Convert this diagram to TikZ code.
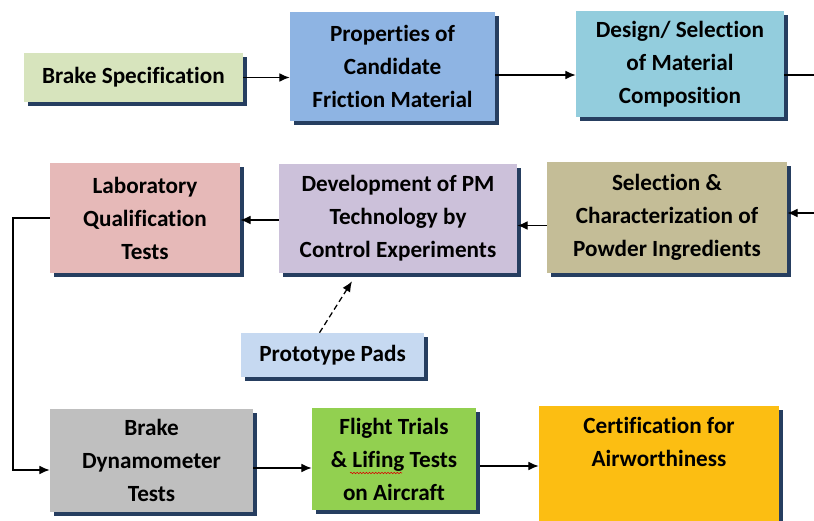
\documentclass[tikz,border=0pt]{standalone}
\usepackage{fontspec}
\setmainfont{Carlito}[Ligatures=NoCommon]
\usepackage{tikz}
\usetikzlibrary{arrows.meta,positioning,calc,shadows,decorations.pathmorphing}
\definecolor{specgreen}{RGB}{215,228,189}
\definecolor{propblue}{RGB}{142,180,227}
\definecolor{designcyan}{RGB}{147,205,221}
\definecolor{selkhaki}{RGB}{196,189,151}
\definecolor{devlilac}{RGB}{204,193,218}
\definecolor{labpink}{RGB}{230,185,184}
\definecolor{protoblue}{RGB}{198,217,241}
\definecolor{dynogrey}{RGB}{191,191,191}
\definecolor{flightgreen}{RGB}{146,208,80}
\definecolor{certgold}{RGB}{252,190,18}
\definecolor{shadenavy}{RGB}{38,62,96}

\begin{document}
\begin{tikzpicture}[x=1cm,y=1cm,
    boxtext/.style={rectangle,align=center,inner sep=2pt,
      font=\fontsize{16.5}{23.5}\selectfont\bfseries},
    box/.style={boxtext,
      general shadow={fill=shadenavy,shadow xshift=0.1cm,shadow yshift=-0.1cm}},
    flow/.style={-{Latex[length=2.6mm,width=2.2mm]},line width=0.9pt}]
    \useasboundingbox (0,0) rectangle (20.35,13.025);
    \node[box,fill=specgreen,minimum width=5.475cm,minimum height=1.225cm] (spec) at (3.3375,11.0875){Brake Specification};
    \node[box,fill=propblue,minimum width=5.125cm,minimum height=2.725cm] (prop) at (9.8125,11.3625){Properties of\\Candidate\\Friction Material};
    \node[box,fill=designcyan,minimum width=5.2cm,minimum height=2.65cm] (design) at (17.0,11.425){Design/ Selection\\of Material\\Composition};
    \node[box,fill=selkhaki,minimum width=6.0cm,minimum height=2.775cm] (select) at (16.675,7.5875){Selection \&\\Characterization of\\Powder Ingredients};
    \node[box,fill=devlilac,minimum width=5.95cm,minimum height=2.725cm] (devel) at (9.95,7.5625){Development of PM\\Technology by\\Control Experiments};
    \node[box,fill=labpink,minimum width=4.75cm,minimum height=2.75cm] (lab) at (3.625,7.575){Laboratory\\Qualification\\Tests};
    \node[box,fill=protoblue,minimum width=4.575cm,minimum height=1.1cm] (proto) at (8.3125,4.15){Prototype Pads};
    \node[box,fill=dynogrey,minimum width=5.075cm,minimum height=2.575cm] (dyno) at (3.7875,1.5125){Brake\\Dynamometer\\Tests};
    \node[box,fill=flightgreen,minimum width=4.1cm,minimum height=2.55cm] (flight) at (9.85,1.55){Flight Trials\\\& Lifing Tests\\on Aircraft};
    \node[box,fill=certgold,minimum width=6.0cm,minimum height=4cm,anchor=north] (cert) at (16.475,2.875){};
    \node[boxtext,anchor=north] (certtext) at ([yshift=-0.2cm]cert.north){Certification for\\Airworthiness};
    \draw[red!85!black,line width=0.4pt,decorate,decoration={snake,amplitude=0.5pt,segment length=2.2pt}] (8.75,1.2)--(10.05,1.2);
    \coordinate (outR) at (20.6,11.15);
    \coordinate (inR) at (20.6,7.7);
    \coordinate (bend) at (0.325,1.275);
    \draw[flow] (spec.east)--(spec.east -| prop.west);
    \draw[flow] (prop.east |- outR)--(design.west |- outR);
    \draw[line width=0.9pt] (design.east |- outR)--(outR);
    \draw[flow] (inR)--(inR -| select.east);
    \draw[flow] ([yshift=-0.2cm]select.west)--([yshift=-0.2cm]select.west -| devel.east);
    \draw[flow] (devel.west |- 0,7.525)--(lab.east |- 0,7.525);
    \draw[flow] (lab.west)--(lab.west -| bend)--(bend)--(bend -| dyno.west);
    \draw[flow] (dyno.east |- 0,1.325)--(flight.west |- 0,1.325);
    \draw[flow] ([xshift=0.1cm]flight.east |- 0,1.375)--(cert.west |- 0,1.375);
    \draw[flow,dash pattern=on 4pt off 2.5pt] ([xshift=-0.325cm]proto.north)--([xshift=-1.15cm,yshift=-0.2cm]devel.south);
  \end{tikzpicture}
\end{document}
